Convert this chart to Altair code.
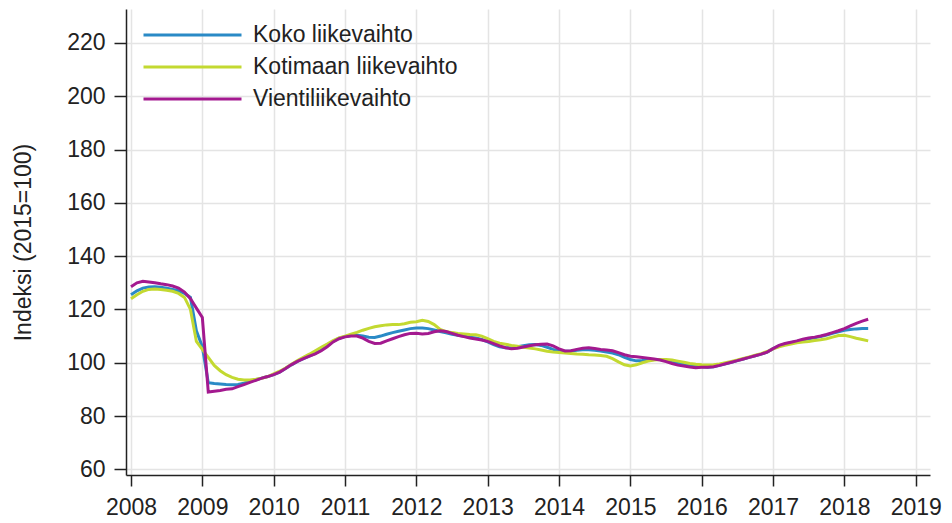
import altair as alt
import pandas as pd

series_names = ["Koko liikevaihto", "Kotimaan liikevaihto", "Vientiliikevaihto"]
series_colors = ["#2a8ac6", "#c3d931", "#a3198f"]
start_year = 2008  # monthly data from January 2008

koko = [
    125.5, 127, 128, 128.4, 128.5, 128.3, 128, 127.5, 127, 126, 124.5, 112,
    106, 92.5, 92.2, 92, 91.8, 91.7, 91.8, 92.3, 93, 93.6, 94.2, 94.8,
    95.5, 96.5, 97.8, 99.2, 100.5, 101.5, 102.5, 103.5, 104.8, 106.3, 108, 109.2,
    109.8, 110.2, 110.3, 110, 109.6, 109.5, 110, 110.7, 111.3, 111.8, 112.3, 112.8,
    113, 113, 112.8, 112.3, 111.7, 111.2, 110.7, 110.3, 109.9, 109.6, 109.3, 108.7,
    107.8, 106.8, 106, 105.6, 105.6, 106, 106.4, 106.7, 106.8, 106.5, 105.8, 105,
    104.4, 104.3, 104.4, 104.7, 104.9, 104.9, 104.7, 104.4, 104, 103.6, 103, 102,
    101.2, 100.7, 100.8, 101, 101.2, 101.2, 100.8, 100.3, 99.8, 99.3, 98.9, 98.7,
    98.5, 98.3, 98.5, 99, 99.6, 100.2, 100.8, 101.4, 102, 102.6, 103.2, 104,
    105.3, 106.3, 107, 107.5, 108, 108.5, 109, 109.4, 109.8, 110.4, 111, 111.6,
    112.2, 112.5, 112.7, 112.8, 112.8,
]
kotimaan = [
    124, 125.5, 126.8, 127.5, 127.7, 127.5, 127.2, 126.8, 126, 124.5, 120, 108,
    105, 102, 99, 97, 95.5, 94.5, 93.8, 93.5, 93.5, 93.8, 94.2, 94.8,
    95.8, 96.8, 98, 99.4, 100.8, 102, 103.2, 104.5, 105.8, 107, 108.3, 109.3,
    110, 110.7, 111.4, 112.2, 112.9, 113.5, 113.9, 114.2, 114.3, 114.3, 114.6, 115.2,
    115.4, 115.9, 115.5, 114.3, 112.5, 111.7, 111.3, 111, 110.8, 110.6, 110.5, 110,
    109, 108, 107.3, 106.9, 106.5, 106.2, 105.8, 105.5, 105.2, 104.8, 104.3, 104,
    103.8, 103.6, 103.5, 103.3, 103.2, 103, 102.9, 102.7, 102.4, 101.5, 100.3, 99.2,
    98.8, 99.2, 100, 100.6, 101, 101.2, 101.2, 101, 100.6, 100.2, 99.7, 99.4,
    99.2, 99.1, 99.2, 99.5, 100, 100.5, 101, 101.6, 102.2, 102.8, 103.4, 104.2,
    105.2, 106, 106.5, 107, 107.5, 107.8, 108, 108.3, 108.6, 109, 109.6, 110.2,
    110.3, 109.8, 109.2, 108.7, 108.2,
]
vienti = [
    128.5, 130, 130.6, 130.3, 130, 129.6, 129.3, 128.8, 128, 126.5, 124, 120.5,
    117, 89, 89.3, 89.6, 90, 90.2, 91, 91.8, 92.6, 93.4, 94.2, 94.8,
    95.5, 96.5, 97.8, 99.3, 100.5, 101.5, 102.5, 103.3, 104.5, 106, 107.8, 109,
    109.7, 110, 110, 109.2, 108, 107.2, 107.3, 108.2, 109, 109.8, 110.5, 111,
    111.1, 110.8, 111, 111.6, 112, 111.7, 111, 110.3, 109.8, 109.3, 108.9, 108.5,
    108, 107.2, 106.3, 105.6, 105.2, 105.4, 105.9, 106.4, 106.7, 106.9, 107, 106.3,
    105.2, 104.4, 104.5, 105, 105.4, 105.6, 105.3, 105, 104.8, 104.5, 103.8, 103,
    102.4, 102.2, 102, 101.7, 101.4, 101, 100.4, 99.7, 99.1, 98.8, 98.4, 98.1,
    98.3, 98.3, 98.5, 99, 99.6, 100.2, 100.8, 101.4, 102, 102.6, 103.2, 104,
    105.3, 106.5, 107.2, 107.7, 108.2, 108.8, 109.3, 109.6, 110, 110.6, 111.3, 112,
    112.8, 113.8, 114.8, 115.6, 116.3,
]

year_ticks = list(range(2008, 2020))
y_ticks = list(range(60, 221, 20))

rows = []
for name, vals in zip(series_names, [koko, kotimaan, vienti]):
    for i, v in enumerate(vals):
        rows.append({"aika": start_year + i / 12.0, "sarja": name, "arvo": v, "jarj": series_names.index(name)})
df = pd.DataFrame(rows)

FONT = "Liberation Sans"
TXT = "#222222"
FS = 23

chart = alt.Chart(df).mark_line(strokeWidth=3).encode(
    x=alt.X("aika:Q",
            scale=alt.Scale(domain=[2007.93, 2019.2], nice=False, zero=False),
            axis=alt.Axis(values=year_ticks, format="d", title=None,
                          labelFontSize=FS, labelFont=FONT, labelColor=TXT,
                          labelPadding=10, tickSize=11, tickWidth=1.5, tickColor=TXT,
                          domainColor=TXT, domainWidth=1.5,
                          grid=True, gridColor="#e4e4e4", gridWidth=1.5,
                          labelFlush=False)),
    y=alt.Y("arvo:Q",
            scale=alt.Scale(domain=[57.86, 232.75], nice=False, zero=False),
            axis=alt.Axis(values=y_ticks, title="Indeksi (2015=100)",
                          labelFontSize=FS, labelFont=FONT, labelColor=TXT,
                          labelPadding=9, tickSize=12, tickWidth=1.5, tickColor=TXT,
                          domainColor=TXT, domainWidth=1.5,
                          grid=True, gridColor="#e4e4e4", gridWidth=1.5,
                          titleFontSize=FS, titleFont=FONT, titleFontWeight="normal",
                          titleColor=TXT, titleAngle=-90, titleX=-103, titleY=233,
                          titleAlign="center", titleBaseline="middle")),
    color=alt.Color("sarja:N",
                    scale=alt.Scale(domain=series_names, range=series_colors),
                    legend=alt.Legend(orient="none", legendX=16, legendY=10, title=None,
                                      symbolType="stroke", symbolSize=9604,
                                      symbolStrokeWidth=3, labelFontSize=FS,
                                      labelFont=FONT, labelColor=TXT, labelOffset=10,
                                      clipHeight=32, rowPadding=0, padding=0,
                                      labelLimit=400)),
    order=alt.Order("jarj:Q"),
).properties(
    width=804,
    height=466,
    autosize=alt.AutoSizeParams(type="none"),
    padding={"left": 118, "top": 1, "right": 14, "bottom": 46},
).configure_view(stroke=None)

chart.save("out.html", embed_options={"renderer": "svg", "actions": False})
